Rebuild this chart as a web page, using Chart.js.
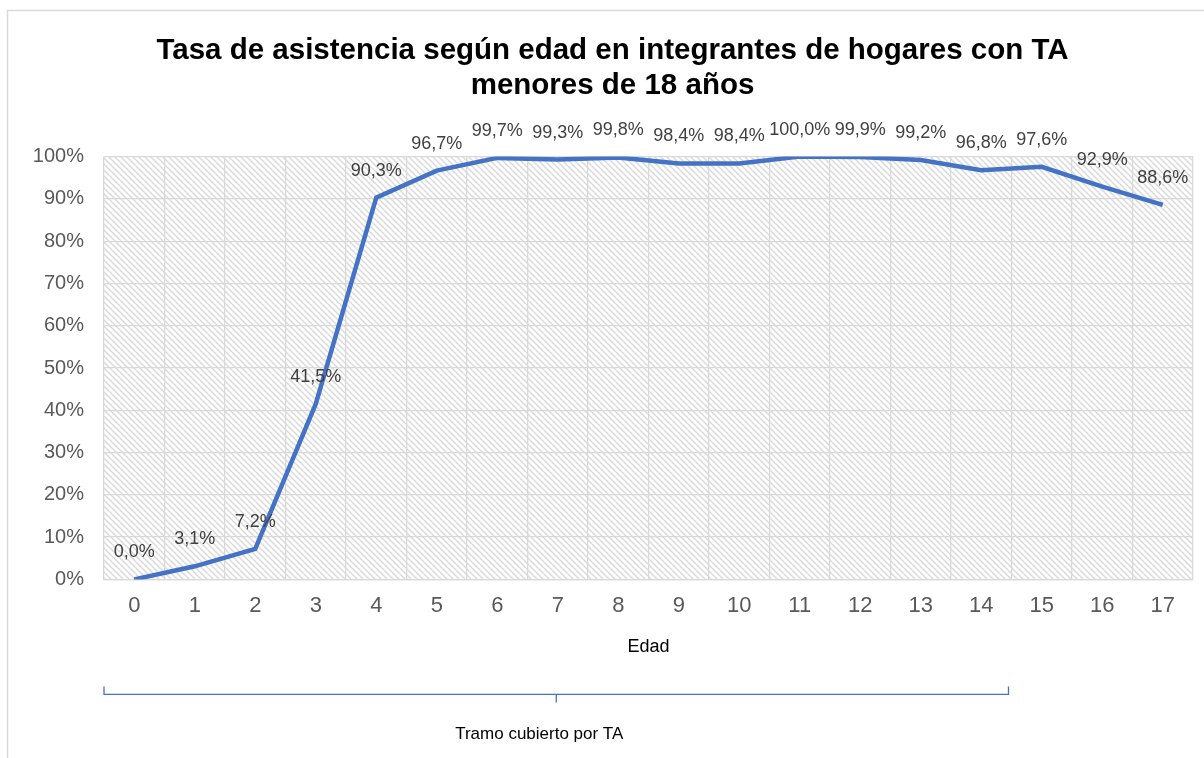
<!DOCTYPE html>
<html>
<head>
<meta charset="utf-8">
<script src="https://cdn.jsdelivr.net/npm/chart.js@4.4.0/dist/chart.umd.min.js"></script>
<style>
  html, body { margin: 0; padding: 0; background: #fff; }
  canvas { display: block; }
</style>
</head>
<body>
<canvas id="asistencia" width="1204" height="758"></canvas>
<script>
// Tasa de asistencia según edad
var edades = ["0", "1", "2", "3", "4", "5", "6", "7", "8", "9", "10", "11", "12", "13", "14", "15", "16", "17"];
var tasa = [0.0, 3.1, 7.2, 41.5, 90.3, 96.7, 99.7, 99.3, 99.8, 98.4, 98.4, 100.0, 99.9, 99.2, 96.8, 97.6, 92.9, 88.6];
var tituloLineas = ["Tasa de asistencia según edad en integrantes de hogares con TA", "menores de 18 años"];
var tramoTexto = "Tramo cubierto por TA";
var tramoHasta = 14; // ultima edad cubierta

var fuente = "Arial, 'Liberation Sans', sans-serif";

// fondo rayado del area de trazado
function rayado() {
  var c = document.createElement("canvas");
  c.width = 6;
  c.height = 6;
  var g = c.getContext("2d");
  g.fillStyle = "#fff";
  g.fillRect(0, 0, 6, 6);
  g.strokeStyle = "#d9d9d9";
  g.lineWidth = 1.4;
  g.beginPath();
  g.moveTo(-1, -1); g.lineTo(7, 7);
  g.moveTo(-4, 2); g.lineTo(4, 10);
  g.moveTo(2, -4); g.lineTo(10, 4);
  g.stroke();
  return c;
}

var extras = {
  id: "extras",
  beforeDraw: function (chart) {
    var ctx = chart.ctx;
    var a = chart.chartArea;
    ctx.save();
    ctx.fillStyle = ctx.createPattern(rayado(), "repeat");
    ctx.fillRect(a.left, a.top, a.right - a.left, a.bottom - a.top);
    // marco del grafico
    ctx.strokeStyle = "#d9d9d9";
    ctx.lineWidth = 1.5;
    ctx.beginPath();
    ctx.moveTo(7.5, chart.height);
    ctx.lineTo(7.5, 10.5);
    ctx.lineTo(chart.width, 10.5);
    ctx.stroke();
    ctx.restore();
  },
  afterDatasetsDraw: function (chart) {
    var ctx = chart.ctx;
    var meta = chart.getDatasetMeta(0);
    ctx.save();
    ctx.font = "18px " + fuente;
    ctx.fillStyle = "#404040";
    ctx.textAlign = "center";
    ctx.textBaseline = "middle";
    meta.data.forEach(function (p, i) {
      var txt = tasa[i].toFixed(1).replace(".", ",") + "%";
      ctx.fillText(txt, p.x, p.y - 27);
    });
    ctx.restore();
  },
  afterDraw: function (chart) {
    var ctx = chart.ctx;
    var x = chart.scales.x;
    var x0 = x.getPixelForValue(-0.5);
    var x1 = x.getPixelForValue(tramoHasta + 0.5) - 3;
    var xm = (x0 + x1) / 2;
    var y = chart.chartArea.bottom + 115;
    ctx.save();
    ctx.strokeStyle = "#4472C4";
    ctx.lineWidth = 1.3;
    ctx.beginPath();
    ctx.moveTo(x0, y - 8);
    ctx.lineTo(x0, y);
    ctx.lineTo(x1, y);
    ctx.lineTo(x1, y - 8);
    ctx.moveTo(xm, y);
    ctx.lineTo(xm, y + 8);
    ctx.stroke();
    ctx.font = "17px " + fuente;
    ctx.fillStyle = "#000";
    ctx.textAlign = "center";
    ctx.textBaseline = "middle";
    ctx.fillText(tramoTexto, xm - 17, y + 40);
    ctx.restore();
  }
};

var ctx = document.getElementById("asistencia").getContext("2d");
var myChart = new Chart(ctx, {
  type: "line",
  data: {
    labels: edades,
    datasets: [
      {
        label: "Tasa de asistencia",
        data: tasa,
        borderColor: "#4472C4",
        borderWidth: 4.5,
        pointRadius: 0,
        fill: false,
        tension: 0,
      },
    ],
  },
  options: {
    responsive: false,
    animation: false,
    layout: { padding: { left: 32, right: 11, top: 0, bottom: 100 } },
    plugins: {
      legend: { display: false },
      tooltip: { enabled: false },
      title: {
        display: true,
        text: tituloLineas,
        color: "#000",
        font: { family: fuente, size: 29.5, weight: "bold", lineHeight: 1.18 },
        padding: { top: 33.5, bottom: 53.5 },
      },
    },
    scales: {
      x: {
        offset: true,
        grid: { offset: true, color: "#d9d9d9", lineWidth: 1.3, drawTicks: false },
        border: { color: "#d9d9d9", width: 1.3 },
        ticks: { color: "#595959", font: { family: fuente, size: 22, lineHeight: 1 }, padding: 16, maxRotation: 0 },
        title: {
          display: true,
          text: "Edad",
          color: "#000",
          font: { family: fuente, size: 18 },
          padding: { top: 3, bottom: 0 },
        },
      },
      y: {
        min: 0,
        max: 100,
        afterFit: function (s) { s.width = 72; },
        grid: { color: "#d9d9d9", lineWidth: 1.3, drawTicks: false },
        border: { display: false },
        ticks: {
          stepSize: 10,
          color: "#595959",
          font: { family: fuente, size: 20 },
          padding: 20,
          callback: function (v) { return v + "%"; },
        },
      },
    },
  },
  plugins: [extras],
});
</script>
</body>
</html>
